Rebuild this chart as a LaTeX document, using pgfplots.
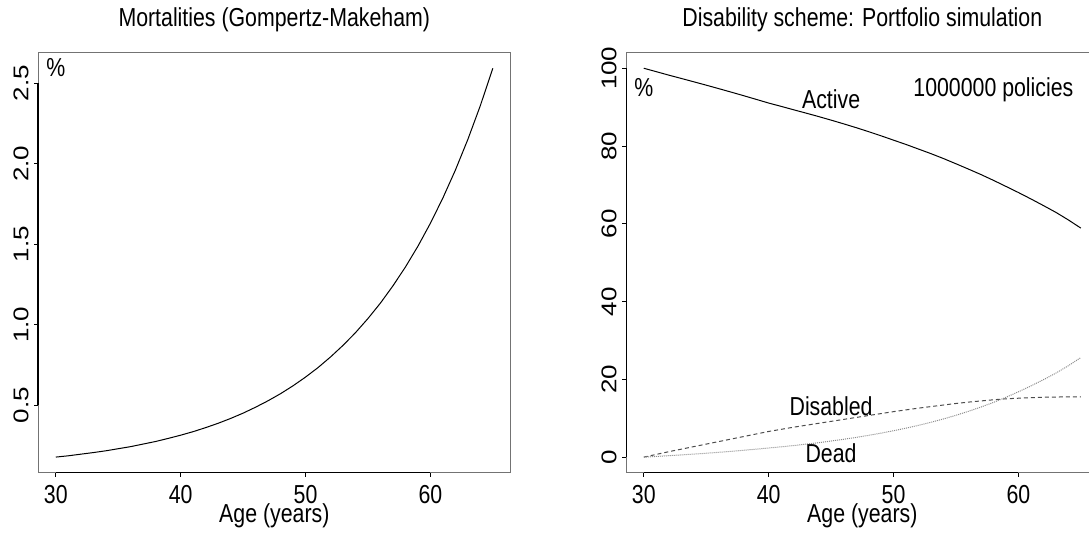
\documentclass[border=0pt]{standalone}
\usepackage{fontspec}
\setmainfont{Liberation Sans}[FakeStretch=0.82]
\newfontfamily\plainfont{Liberation Sans}
\usepackage{graphicx}
\usepackage{pgfplots}
\usepackage{pgfplotstable}
\pgfplotsset{compat=1.18}

\newcommand{\ytl}[1]{\rotatebox{90}{\scalebox{1}[0.82]{\plainfont #1}}}

\pgfplotstableread{
age active disabled dead
30 100.00 0.00 0.00
31 99.12 0.70 0.18
32 98.23 1.40 0.37
33 97.38 2.05 0.57
34 96.52 2.70 0.78
35 95.65 3.35 1.00
36 94.76 4.00 1.24
37 93.86 4.65 1.49
38 92.94 5.30 1.76
39 92.00 5.95 2.05
40 91.05 6.60 2.35
41 90.20 7.15 2.65
42 89.32 7.70 2.98
43 88.46 8.20 3.34
44 87.58 8.70 3.72
45 86.66 9.20 4.14
46 85.71 9.70 4.59
47 84.73 10.20 5.07
48 83.70 10.70 5.60
49 82.63 11.20 6.17
50 81.51 11.70 6.79
51 80.40 12.15 7.45
52 79.22 12.60 8.18
53 78.04 13.00 8.96
54 76.78 13.40 9.82
55 75.44 13.80 10.76
56 74.07 14.15 11.78
57 72.67 14.45 12.88
58 71.18 14.75 14.07
59 69.62 15.00 15.38
60 68.05 15.15 16.80
61 66.40 15.30 18.30
62 64.70 15.40 19.90
63 62.95 15.45 21.60
64 61.00 15.50 23.50
65 58.90 15.50 25.60
}\portfolio

\pgfplotsset{
  rstyle/.style={
    scale only axis, width=236pt, height=210pt,
    clip=false,
    axis line style={black!55, line width=0.7pt},
    tick align=outside, major tick length=2pt,
    xtick pos=bottom, ytick pos=left,
    tick style={black, line width=0.5pt},
    xmin=28.6, xmax=66.4,
    xtick={30,40,50,60}, xticklabels={30,40,50,60},
    every tick label/.append style={font=\fontsize{13}{15}\selectfont},
    xticklabel style={anchor=base, inner sep=0pt, yshift=-13.3pt},
    yticklabel style={anchor=east, inner sep=0pt, xshift=-2.65pt},
  }
}

\begin{document}
\begin{tikzpicture}[font=\fontsize{13}{15}\selectfont]
\useasboundingbox (0,0) rectangle (544.5pt,267.5pt);
\clip (0,0) rectangle (544.5pt,267.5pt);

\begin{axis}[rstyle, at={(19.15pt,31.15pt)}, anchor=south west,
  ymin=0.080, ymax=2.690,
  ytick={0.5,1.0,1.5,2.0,2.5},
  yticklabels={\ytl{0.5},\ytl{1.0},\ytl{1.5},\ytl{2.0},\ytl{2.5}}]
\addplot[black, line width=0.5pt] coordinates {
(30,0.177)(31,0.185)(32,0.195)(33,0.205)(34,0.216)(35,0.229)(36,0.242)(37,0.258)
(38,0.274)(39,0.293)(40,0.313)(41,0.335)(42,0.360)(43,0.387)(44,0.417)(45,0.450)
(46,0.487)(47,0.527)(48,0.571)(49,0.620)(50,0.674)(51,0.733)(52,0.799)(53,0.871)
(54,0.950)(55,1.038)(56,1.134)(57,1.241)(58,1.358)(59,1.487)(60,1.630)(61,1.787)
(62,1.960)(63,2.151)(64,2.361)(65,2.593)};
\node[anchor=base] at (axis cs:30,2.54) {\%};
\draw[black, line width=0.8pt] (axis cs:30,0.080) -- (axis cs:60,0.080);
\draw[black, line width=0.8pt] (axis cs:28.6,0.5) -- (axis cs:28.6,2.5);
\node[anchor=base, yshift=13.05pt] at (rel axis cs:0.5,1) {Mortalities (Gompertz-Makeham)};
\node[anchor=base, yshift=-25pt] at (rel axis cs:0.5,0) {Age (years)};
\end{axis}

\begin{axis}[rstyle, at={(313.15pt,31.15pt)}, anchor=south west,
  ymin=-4, ymax=104,
  ytick={0,20,40,60,80,100},
  yticklabels={\ytl{0},\ytl{20},\ytl{40},\ytl{60},\ytl{80},\ytl{100}}]
\addplot[black, line width=0.5pt] table[x=age, y=active] {\portfolio};
\addplot[black!70, line width=0.5pt, dash pattern=on 2pt off 1.5pt] table[x=age, y=disabled] {\portfolio};
\addplot[black!45, line width=0.5pt, dash pattern=on 0.5pt off 0.5pt] table[x=age, y=dead] {\portfolio};
\node[anchor=base] at (axis cs:30,92.8) {\%};
\node[anchor=base] at (axis cs:45,89.6) {Active};
\node[anchor=base] at (axis cs:58,92.7) {1000000 policies};
\node[anchor=base] at (axis cs:45,10.7) {Disabled};
\node[anchor=base] at (axis cs:45,-1.3) {Dead};
\draw[black, line width=0.8pt] (axis cs:30,-4) -- (axis cs:60,-4);
\draw[black, line width=0.8pt] (axis cs:28.6,0) -- (axis cs:28.6,100);
\node[anchor=base, yshift=13.05pt] at (rel axis cs:0.5,1) {Disability scheme: Portfolio simulation};
\node[anchor=base, yshift=-25pt] at (rel axis cs:0.5,0) {Age (years)};
\end{axis}
\end{tikzpicture}
\end{document}
